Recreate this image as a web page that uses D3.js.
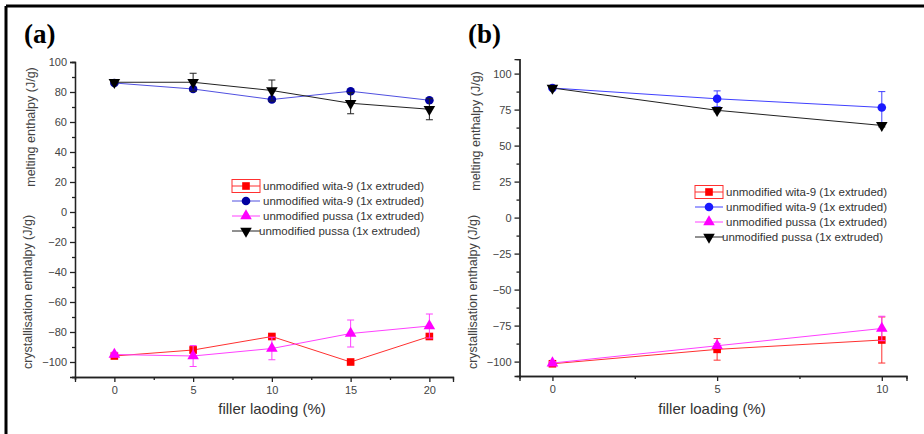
<!DOCTYPE html>
<html>
<head>
<meta charset="utf-8">
<title>Melting and crystallisation enthalpy</title>
<script src="https://d3js.org/d3.v7.min.js"></script>
<style>
  body { margin: 0; background: #fff; }
  text { font-family: Arial, "Liberation Sans", sans-serif; }
</style>
</head>
<body>
<div id="chart"></div>
<script>
// ---- data ----
var seriesNames = ["unmodified wita-9 (1x extruded)", "unmodified wita-9 (1x extruded)",
                   "unmodified pussa (1x extruded)", "unmodified pussa (1x extruded)"];

// panel (a)
var xA = [0, 5, 10, 15, 20];
var aWitaCryst = [-96, -92, -83, -100, -83];
var aWitaCrystErr = [1, 2, 1, 1, 1];
var aWitaMelt = [86, 82, 75, 80.5, 74.5];
var aWitaMeltErr = [0, 0, 0, 0, 0];
var aPussaCryst = [-95, -96, -91, -81, -76];
var aPussaCrystErr = [1.5, 7, 7.5, 9, 8];
var aPussaMelt = [86.5, 86.5, 81, 72.5, 68.5];
var aPussaMeltErr = [1, 6, 7, 7, 7];
var aYTicks = [-100, -80, -60, -40, -20, 0, 20, 40, 60, 80, 100];
var aXTicks = [0, 5, 10, 15, 20];

// panel (b)
var xB = [0, 5, 10];
var bWitaCryst = [-101.5, -91.5, -85];
var bWitaCrystErr = [1, 7.5, 16];
var bWitaMelt = [90, 82.5, 76.5];
var bWitaMeltErr = [0.5, 5.5, 11];
var bPussaCryst = [-101, -89, -77];
var bPussaCrystErr = [1, 1.5, 8.5];
var bPussaMelt = [90, 74.5, 64];
var bPussaMeltErr = [0.5, 1, 1];
var bYTicks = [-100, -75, -50, -25, 0, 25, 50, 75, 100];
var bXTicks = [0, 5, 10];

var svg = d3.select("#chart").append("svg")
    .attr("width", 924).attr("height", 434);

// frame (top and left only)
svg.append("line").attr("x1", 6).attr("x2", 924).attr("y1", 6).attr("y2", 6)
   .attr("stroke", "#000").attr("stroke-width", 3);
svg.append("line").attr("x1", 6).attr("x2", 6).attr("y1", 6).attr("y2", 434)
   .attr("stroke", "#000").attr("stroke-width", 3);

var symbols = {
  square: d3.symbol().type(d3.symbolSquare).size(58),
  circle: d3.symbol().type(d3.symbolCircle).size(58),
  triUp: d3.symbol().type(d3.symbolTriangle).size(58),
  triDown: d3.symbol().type(d3.symbolTriangle).size(58)
};

function drawPanel(p) {
  var x = d3.scaleLinear().domain(p.xDomain).range(p.xRange);
  var y = d3.scaleLinear().domain(p.yDomain).range(p.yRange);
  var g = svg.append("g");

  // panel label
  g.append("text").attr("x", p.labelX).attr("y", 43)
   .style("font-family", "'Liberation Serif', 'Times New Roman', serif")
   .style("font-weight", "bold").style("font-size", "27px")
   .text(p.label);

  // axes
  var yAxis = d3.axisLeft(y).tickValues(p.yTicks).tickSize(5).tickPadding(3);
  var yMinor = d3.axisLeft(y).tickValues(p.yMinor).tickSize(3).tickFormat("");
  var xAxis = d3.axisBottom(x).tickValues(p.xTicks).tickSize(5).tickPadding(4);
  var xMinor = d3.axisBottom(x).tickValues(p.xMinor).tickSize(3).tickFormat("");

  [[yAxis, "y"], [yMinor, "y"], [xAxis, "x"], [xMinor, "x"]].forEach(function(a) {
    var ag = g.append("g")
      .attr("transform", a[1] === "y" ? "translate(" + p.xRange[0] + ",0)" : "translate(0," + p.yRange[0] + ")")
      .call(a[0]);
    ag.select(".domain").attr("stroke", "#222").attr("stroke-width", 1.3);
    ag.selectAll(".tick line").attr("stroke", "#222").attr("stroke-width", 1.3);
    ag.selectAll(".tick text").attr("fill", "#444").style("font-size", "11px");
  });

  // axis titles
  g.append("text")
   .attr("transform", "translate(" + p.meltTitle[0] + "," + p.meltTitle[1] + ") rotate(-90)")
   .attr("text-anchor", "middle").attr("fill", "#444").style("font-size", "12.5px")
   .text("melting enthalpy (J/g)");
  g.append("text")
   .attr("transform", "translate(" + p.crystTitle[0] + "," + p.crystTitle[1] + ") rotate(-90)")
   .attr("text-anchor", "middle").attr("fill", "#444").style("font-size", "12.5px")
   .text("crystallisation enthalpy (J/g)");
  g.append("text")
   .attr("x", (p.xRange[0] + p.xRange[1]) / 2 + p.xTitleShift).attr("y", 414)
   .attr("text-anchor", "middle").attr("fill", "#333").style("font-size", "15px")
   .text(p.xTitle);

  // series
  p.series.forEach(function(s) {
    var pts = p.xs.map(function(v, i) { return {x: v, y: s.values[i], e: s.err[i]}; });
    var sg = g.append("g");
    sg.append("path").datum(pts)
      .attr("fill", "none").attr("stroke", s.line).attr("stroke-width", 1)
      .attr("d", d3.line().x(function(d) { return x(d.x); }).y(function(d) { return y(d.y); }));
    var eb = sg.selectAll("g.err").data(pts.filter(function(d) { return d.e > 0; }))
      .enter().append("g").attr("stroke", s.line).attr("stroke-width", 1);
    eb.append("line")
      .attr("x1", function(d) { return x(d.x); }).attr("x2", function(d) { return x(d.x); })
      .attr("y1", function(d) { return y(d.y - d.e); }).attr("y2", function(d) { return y(d.y + d.e); });
    [-1, 1].forEach(function(sign) {
      eb.append("line")
        .attr("x1", function(d) { return x(d.x) - 3.5; }).attr("x2", function(d) { return x(d.x) + 3.5; })
        .attr("y1", function(d) { return y(d.y + sign * d.e); })
        .attr("y2", function(d) { return y(d.y + sign * d.e); });
    });
    sg.selectAll("path.mark").data(pts).enter().append("path")
      .attr("d", symbols[s.shape])
      .attr("fill", s.fill)
      .attr("transform", function(d) {
        return "translate(" + x(d.x) + "," + y(d.y) + ")" + (s.shape === "triDown" ? " rotate(180)" : "");
      });
  });

  // legend
  var lg = g.append("g").attr("transform", "translate(" + p.legend[0] + "," + p.legend[1] + ")");
  p.series.forEach(function(s, i) {
    var row = lg.append("g").attr("transform", "translate(0," + (i * 15) + ")");
    if (i === 0) {
      row.append("rect").attr("x", 0).attr("y", -6.5).attr("width", 28).attr("height", 13)
         .attr("fill", "none").attr("stroke", s.line).attr("stroke-width", 1);
    }
    row.append("line").attr("x1", 0).attr("x2", 28).attr("y1", 0).attr("y2", 0)
       .attr("stroke", s.line).attr("stroke-width", 1);
    row.append("path").attr("d", symbols[s.shape]).attr("fill", s.fill)
       .attr("transform", "translate(14,0)" + (s.shape === "triDown" ? " rotate(180)" : ""));
    row.append("text").attr("x", i === 3 ? 27 : 31).attr("y", 4)
       .attr("fill", "#333").style("font-size", "11.5px")
       .text(seriesNames[i]);
  });
}

drawPanel({
  label: "(a)", labelX: 24,
  xDomain: [-2.5, 21.5], xRange: [75, 453],
  yDomain: [-110, 100], yRange: [377, 62],
  yTicks: aYTicks, yMinor: d3.range(-110, 100, 20),
  xTicks: aXTicks, xMinor: [-2.5, 2.5, 7.5, 12.5, 17.5],
  meltTitle: [35, 127], crystTitle: [32, 292],
  xTitle: "filler laoding (%)", xTitleShift: 8,
  xs: xA, legend: [232, 186],
  series: [
    {values: aWitaCryst, err: aWitaCrystErr, shape: "square", fill: "#ff0000", line: "#ff3030"},
    {values: aWitaMelt, err: aWitaMeltErr, shape: "circle", fill: "#0000a0", line: "#5050e0"},
    {values: aPussaCryst, err: aPussaCrystErr, shape: "triUp", fill: "#ff00ff", line: "#ff40ff"},
    {values: aPussaMelt, err: aPussaMeltErr, shape: "triDown", fill: "#000", line: "#222"}
  ]
});

drawPanel({
  label: "(b)", labelX: 468,
  xDomain: [-1, 10.75], xRange: [519.5, 906.5],
  yDomain: [-110, 110], yRange: [376, 59.2],
  yTicks: bYTicks, yMinor: d3.range(-87.5, 110, 25),
  xTicks: bXTicks, xMinor: [2.5, 7.5],
  meltTitle: [480, 131], crystTitle: [477, 292],
  xTitle: "filler loading (%)", xTitleShift: -1,
  xs: xB, legend: [695, 192],
  series: [
    {values: bWitaCryst, err: bWitaCrystErr, shape: "square", fill: "#ff0000", line: "#ff3030"},
    {values: bWitaMelt, err: bWitaMeltErr, shape: "circle", fill: "#1a1aff", line: "#4040ff"},
    {values: bPussaCryst, err: bPussaCrystErr, shape: "triUp", fill: "#ff00ff", line: "#ff40ff"},
    {values: bPussaMelt, err: bPussaMeltErr, shape: "triDown", fill: "#000", line: "#222"}
  ]
});
</script>
</body>
</html>
